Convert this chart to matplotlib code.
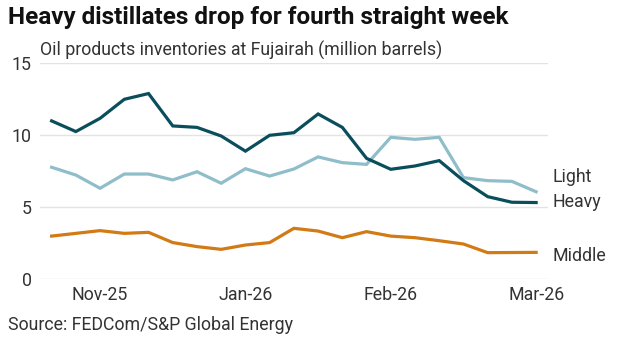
import matplotlib
matplotlib.use("Agg")
import matplotlib.pyplot as plt
import numpy as np

plt.rcParams['font.family'] = ['Roboto', 'DejaVu Sans']

heavy = [11.0, 10.26, 11.18, 12.5, 12.9, 10.65, 10.55, 9.95, 8.9, 10.0, 10.18,
         11.48, 10.55, 8.4, 7.64, 7.87, 8.24, 6.85, 5.74, 5.35, 5.33]
light = [7.78, 7.24, 6.32, 7.31, 7.31, 6.9, 7.47, 6.67, 7.68, 7.17, 7.66,
         8.5, 8.1, 7.98, 9.86, 9.72, 9.86, 7.06, 6.85, 6.8, 6.08]
middle = [3.0, 3.19, 3.38, 3.19, 3.26, 2.55, 2.27, 2.08, 2.38, 2.55, 3.54,
          3.35, 2.89, 3.31, 3.0, 2.89, 2.68, 2.45, 1.85, 1.86, 1.87]
tick_pos = [2, 8, 14, 20]
tick_labels = ["Nov-25", "Jan-26", "Feb-26", "Mar-26"]
y_ticks = [0, 5, 10, 15]

series = [("Light", light, "#8fbdc9"), ("Heavy", heavy, "#0a4e5c"), ("Middle", middle, "#d27a14")]
label_y = {"Light": 7.12, "Heavy": 5.39, "Middle": 1.62}

W, H = 627, 344
fig = plt.figure(figsize=(W/100, H/100), dpi=100)
ax = fig.add_axes([40/W, 1-279.3/H, (548-40)/W, (279.3-63.3)/H])

x = np.arange(len(heavy))
for name, vals, col in series:
    ax.plot(x, vals, color=col, lw=2.3, solid_joinstyle='miter', zorder=3)
    ax.text(20.66, label_y[name], name, fontsize=12.8, color='#333333', va='center', ha='left',
            clip_on=False)

ax.set_xlim(-0.48, 20.49)
ax.set_ylim(0, 15)
ax.set_yticks(y_ticks)
ax.set_xticks(tick_pos)
ax.set_xticklabels(tick_labels)
ax.grid(axis='y', color='#e3e3e3', lw=1)
ax.set_axisbelow(True)
for s in ax.spines.values():
    s.set_visible(False)
ax.tick_params(axis='both', length=0, labelsize=12.8, labelcolor='#333333')
ax.tick_params(axis='y', pad=6)
ax.tick_params(axis='x', pad=5)

fig.text(8/W, 1-17.5/H, "Heavy distillates drop for fourth straight week", fontsize=17.5,
         fontweight='bold', color='#111111', va='center', ha='left')
fig.text(40/W, 1-50/H, "Oil products inventories at Fujairah (million barrels)", fontsize=12.8,
         color='#333333', va='center', ha='left')
fig.text(8/W, 1-325/H, "Source: FEDCom/S&P Global Energy", fontsize=12.8,
         color='#333333', va='center', ha='left')

fig.savefig("out.png", dpi=100)
